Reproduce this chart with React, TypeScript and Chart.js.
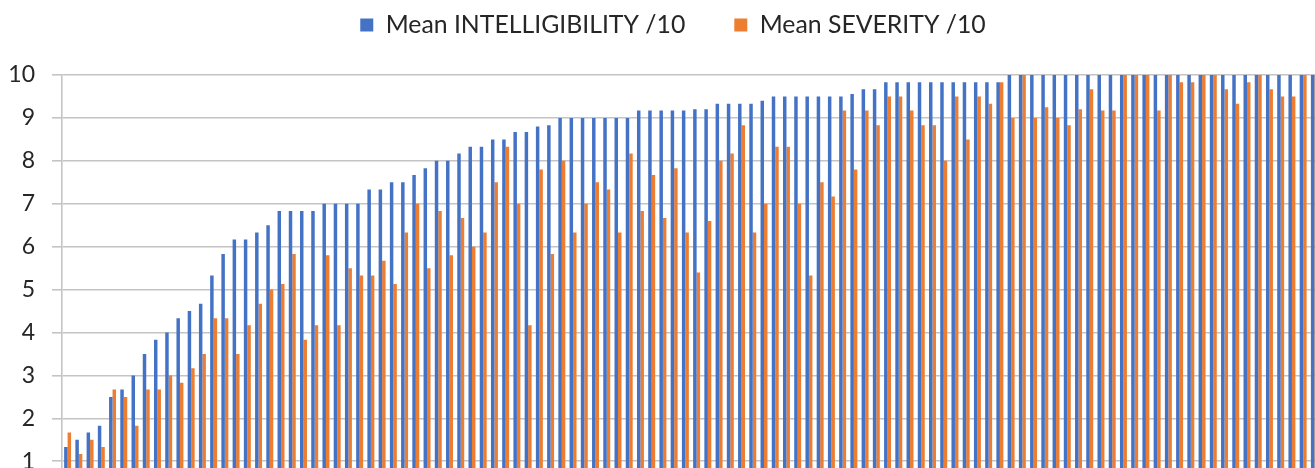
import { useEffect, useRef } from "react";
import { Chart, registerables } from "chart.js";

Chart.register(...registerables);

const intelligibility: number[] = [
  1.33, 1.5, 1.67, 1.83, 2.5, 2.67, 3, 3.5, 3.83, 4,
  4.33, 4.5, 4.67, 5.33, 5.83, 6.17, 6.17, 6.33, 6.5, 6.83,
  6.83, 6.83, 6.83, 7, 7, 7, 7, 7.33, 7.33, 7.5,
  7.5, 7.67, 7.83, 8, 8, 8.17, 8.33, 8.33, 8.5, 8.5,
  8.67, 8.67, 8.8, 8.83, 9, 9, 9, 9, 9, 9,
  9, 9.17, 9.17, 9.17, 9.17, 9.17, 9.2, 9.2, 9.33, 9.33,
  9.33, 9.33, 9.4, 9.5, 9.5, 9.5, 9.5, 9.5, 9.5, 9.5,
  9.56, 9.67, 9.67, 9.83, 9.83, 9.83, 9.83, 9.83, 9.83, 9.83,
  9.83, 9.83, 9.83, 9.83, 10, 10, 10, 10, 10, 10,
  10, 10, 10, 10, 10, 10, 10, 10, 10, 10,
  10, 10, 10, 10, 10, 10, 10, 10, 10, 10,
  10, 10,
];

const severity: number[] = [
  1.67, 1.17, 1.5, 1.33, 2.67, 2.5, 1.83, 2.67, 2.67, 3,
  2.83, 3.17, 3.5, 4.33, 4.33, 3.5, 4.17, 4.67, 5, 5.13,
  5.83, 3.83, 4.17, 5.8, 4.17, 5.5, 5.33, 5.33, 5.67, 5.13,
  6.33, 7, 5.5, 6.83, 5.8, 6.67, 6, 6.33, 7.5, 8.33,
  7, 4.17, 7.8, 5.83, 8, 6.33, 7, 7.5, 7.33, 6.33,
  8.17, 6.83, 7.67, 6.67, 7.83, 6.33, 5.4, 6.6, 8, 8.17,
  8.83, 6.33, 7, 8.33, 8.33, 7, 5.33, 7.5, 7.17, 9.17,
  7.8, 9.17, 8.83, 9.5, 9.5, 9.17, 8.83, 8.83, 8, 9.5,
  8.5, 9.5, 9.33, 9.83, 9, 10, 9, 9.25, 9, 8.83,
  9.2, 9.67, 9.17, 9.17, 10, 10, 10, 9.17, 10, 9.83,
  9.83, 10, 10, 9.67, 9.33, 9.83, 10, 9.67, 9.5, 9.5,
  10, 10,
];

const categories: string[] = intelligibility.map((_, i) => String(i + 1));

const yTicks: number[] = [0, 1, 2, 3, 4, 5, 6, 7, 8, 9, 10];

const seriesNames: string[] = ["Mean INTELLIGIBILITY /10", "Mean SEVERITY /10"];

const CANVAS_W = 1322;
const CANVAS_H = 535;
const LEGEND_H = 75;
const LEGEND_PAD = 49;
const LEGEND_FONT = 24.8;
const LEGEND_CENTER_Y = 25;
const LEGEND_SHIFT_X = 13;

const legendTweak = {
  id: "legendTweak",
  afterInit(chart: any) {
    const legend = chart.legend;
    if (!legend) return;
    const origFit = legend.fit.bind(legend);
    legend.fit = function () {
      origFit();
      this.height = LEGEND_H;
    };
  },
  afterLayout(chart: any) {
    const legend = chart.legend;
    if (!legend) return;
    legend.top = LEGEND_CENTER_Y - LEGEND_FONT / 2 - LEGEND_PAD;
    legend.left += LEGEND_SHIFT_X;
    legend.right += LEGEND_SHIFT_X;
  },
};

export default function App() {
  const ref = useRef<HTMLCanvasElement | null>(null);

  useEffect(() => {
    if (!ref.current) return;
    const chart = new Chart(ref.current, {
      type: "bar",
      data: {
        labels: categories,
        datasets: [
          {
            label: seriesNames[0],
            data: intelligibility,
            backgroundColor: "#4472C4",
            borderWidth: 0,
          },
          {
            label: seriesNames[1],
            data: severity,
            backgroundColor: "#ED7D31",
            borderWidth: 0,
          },
        ],
      },
      options: {
        responsive: false,
        animation: false,
        devicePixelRatio: 1,
        datasets: {
          bar: {
            categoryPercentage: 0.62,
            barPercentage: 1.0,
          },
        },
        layout: { padding: { left: 0, right: 2, top: 0, bottom: 0 } },
        plugins: {
          tooltip: { enabled: false },
          legend: {
            display: true,
            position: "top",
            labels: {
              boxWidth: 13,
              boxHeight: 13,
              padding: LEGEND_PAD,
              color: "#262626",
              font: { family: "Lato", size: LEGEND_FONT },
            },
          },
        },
        scales: {
          x: {
            display: false,
            offset: true,
            grid: { display: false },
            border: { display: false },
            ticks: { display: false },
          },
          y: {
            min: 0,
            max: 10,
            afterFit(scale: any) {
              scale.width = 62;
            },
            afterBuildTicks(scale: any) {
              scale.ticks = yTicks.map((v) => ({ value: v }));
            },
            grid: {
              color: "#c4c4c4",
              lineWidth: 1.6,
              drawTicks: true,
              tickLength: 10,
              tickColor: "#c4c4c4",
            },
            border: { display: true, color: "#c4c4c4", width: 1.6 },
            ticks: {
              padding: 17,
              color: "#262626",
              font: { family: "Lato", size: 23 },
            },
          },
        },
      },
      plugins: [legendTweak],
    });
    return () => chart.destroy();
  }, []);

  return (
    <div
      style={{
        position: "fixed",
        left: 0,
        top: 0,
        width: 1315,
        height: 468,
        overflow: "hidden",
        background: "#ffffff",
      }}
    >
      <canvas
        ref={ref}
        width={CANVAS_W}
        height={CANVAS_H}
        style={{ display: "block", width: CANVAS_W, height: CANVAS_H }}
      />
    </div>
  );
}
